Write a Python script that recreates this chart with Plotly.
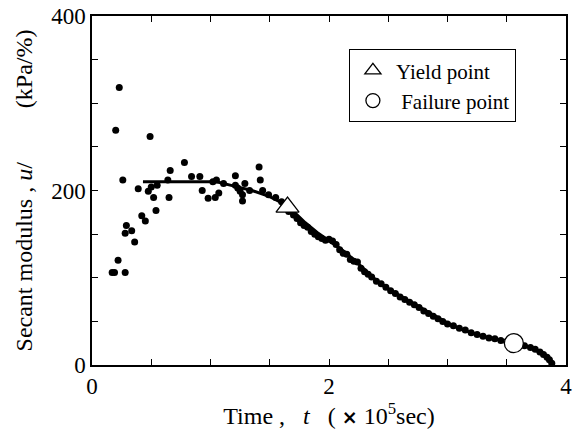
import plotly.graph_objects as go

# early scattered data (x in 1e5 sec, y in kPa/%)
early_x = [0.17, 0.19, 0.28, 0.22, 0.36, 0.28, 0.335, 0.29, 0.45, 0.42, 0.54, 0.52, 0.475, 0.39, 0.50, 0.55,
           0.26, 0.64, 0.65, 0.66, 0.49, 0.20, 0.23, 0.78, 0.84, 0.91, 0.93, 0.98, 1.04, 1.07, 1.02, 1.05,
           1.11, 1.21, 1.21, 1.23, 1.25, 1.27, 1.27, 1.29, 1.33, 1.41, 1.42, 1.44, 1.49, 1.55, 1.60]
early_y = [106, 106, 106, 120, 141, 151, 154, 160, 165, 171, 177, 192, 199, 202, 204, 206,
           212, 212, 192, 223, 262, 269, 318, 232, 216, 216, 200, 191, 192, 197, 210, 212,
           208, 217, 206, 203, 199, 195, 188, 208, 200, 227, 212, 200, 195, 192, 187]

# dense data after yield
dense_x = [1.62, 1.66, 1.70, 1.73, 1.76, 1.79, 1.82, 1.85, 1.88, 1.91, 1.94, 1.97, 2.00, 2.03, 2.06, 2.09,
           2.12, 2.15, 2.18, 2.21, 2.24, 2.27, 2.30, 2.33, 2.36, 2.40, 2.44, 2.48, 2.52, 2.56, 2.60, 2.64,
           2.68, 2.72, 2.76, 2.80, 2.84, 2.88, 2.92, 2.96, 3.00, 3.05, 3.10, 3.15, 3.20, 3.25, 3.30, 3.35,
           3.40, 3.45, 3.50, 3.60, 3.65, 3.70, 3.74, 3.78, 3.81, 3.84, 3.86, 3.88]
dense_y = [183, 176, 172, 168, 163, 160, 158, 153, 150, 147, 145, 143, 144, 142, 138, 132,
           128, 127, 121, 119, 118, 111, 107, 104, 101, 96, 93, 89, 85, 82, 78, 75,
           72, 69, 66, 62, 59, 56, 53, 50, 47, 45, 42, 40, 37, 35, 33, 31,
           30, 28, 27, 24, 22, 20, 18, 15, 12, 9, 6, 2]

# fitted line
fit_x = [0.43, 1.05, 1.2, 1.35, 1.5, 1.6, 1.7, 1.8, 1.9, 2.0, 2.1, 2.2, 2.3, 2.4, 2.5, 2.6, 2.7, 2.8,
         2.9, 3.0, 3.1, 3.2, 3.3, 3.4, 3.5, 3.6, 3.7, 3.8, 3.85, 3.88]
fit_y = [210, 210, 205, 200, 193, 186, 176, 163, 152, 143, 133, 122, 109, 97, 87, 79, 71, 63,
         55, 48, 42, 37, 33, 30, 27, 24, 20, 13, 7, 1]

yield_x, yield_y = [1.65], [181]
fail_x, fail_y = [3.56], [25]

FONT = "Liberation Serif, Times New Roman, serif"
NB = "\u00a0"
fig = go.Figure()
fig.add_trace(go.Scatter(x=fit_x, y=fit_y, mode="lines", line=dict(color="black", width=3),
                         showlegend=False))
fig.add_trace(go.Scatter(x=early_x + dense_x, y=early_y + dense_y, mode="markers",
                         marker=dict(color="black", size=7), showlegend=False))
fig.add_trace(go.Scatter(x=yield_x, y=yield_y, mode="markers",
                         marker=dict(symbol="triangle-up", size=20, color="white",
                                     line=dict(color="black", width=1.3)), showlegend=False))
fig.add_trace(go.Scatter(x=fail_x, y=fail_y, mode="markers",
                         marker=dict(symbol="circle", size=19, color="white",
                                     line=dict(color="black", width=1.3)), showlegend=False))
# legend entries
fig.add_trace(go.Scatter(x=[None], y=[None], mode="markers", name="Yield point",
                         marker=dict(symbol="triangle-up", size=14, color="white",
                                     line=dict(color="black", width=1.3))))
fig.add_trace(go.Scatter(x=[None], y=[None], mode="markers", name=" Failure point",
                         marker=dict(symbol="circle", size=14, color="white",
                                     line=dict(color="black", width=1.3))))

axis_common = dict(showline=True, linecolor="black", linewidth=1.5, mirror="ticks",
                   ticks="inside", ticklen=6, tickcolor="black", showgrid=False, zeroline=False,
                   automargin=False,
                   tickfont=dict(family=FONT, size=23, color="black"))
times_sign = '<span style="font-family:DejaVu Sans;font-size:19px"><b>×</b></span>'
fig.update_xaxes(range=[0, 4], dtick=2, tick0=0,
                 minor=dict(dtick=0.5, ticks="inside", ticklen=6, tickcolor="black"),
                 title=dict(text="Time" + NB + "," + NB * 3 + "<i>t</i>" + NB * 3 + "(" + NB
                                 + times_sign + NB + "10<sup>5</sup>sec)",
                            font=dict(family=FONT, size=24, color="black"), standoff=0),
                 **axis_common)
fig.update_yaxes(range=[0, 400], dtick=200, tick0=0,
                 minor=dict(dtick=50, ticks="inside", ticklen=6, tickcolor="black"),
                 title=dict(text="Secant modulus , <i>u</i>/" + NB * 9 + "(kPa/%)",
                            font=dict(family=FONT, size=24, color="black"), standoff=12),
                 **axis_common)
fig.update_layout(width=574, height=431, margin=dict(l=92, r=8, t=16, b=66),
                  plot_bgcolor="white", paper_bgcolor="white",
                  legend=dict(x=0.542, y=0.905, xanchor="left", yanchor="top",
                              bordercolor="black", borderwidth=1, bgcolor="white",
                              font=dict(family=FONT, size=21, color="black"),
                              tracegroupgap=0, itemwidth=36))
fig.write_html("out.html", post_script="document.body.style.margin='0';",
               config={"displayModeBar": False})
